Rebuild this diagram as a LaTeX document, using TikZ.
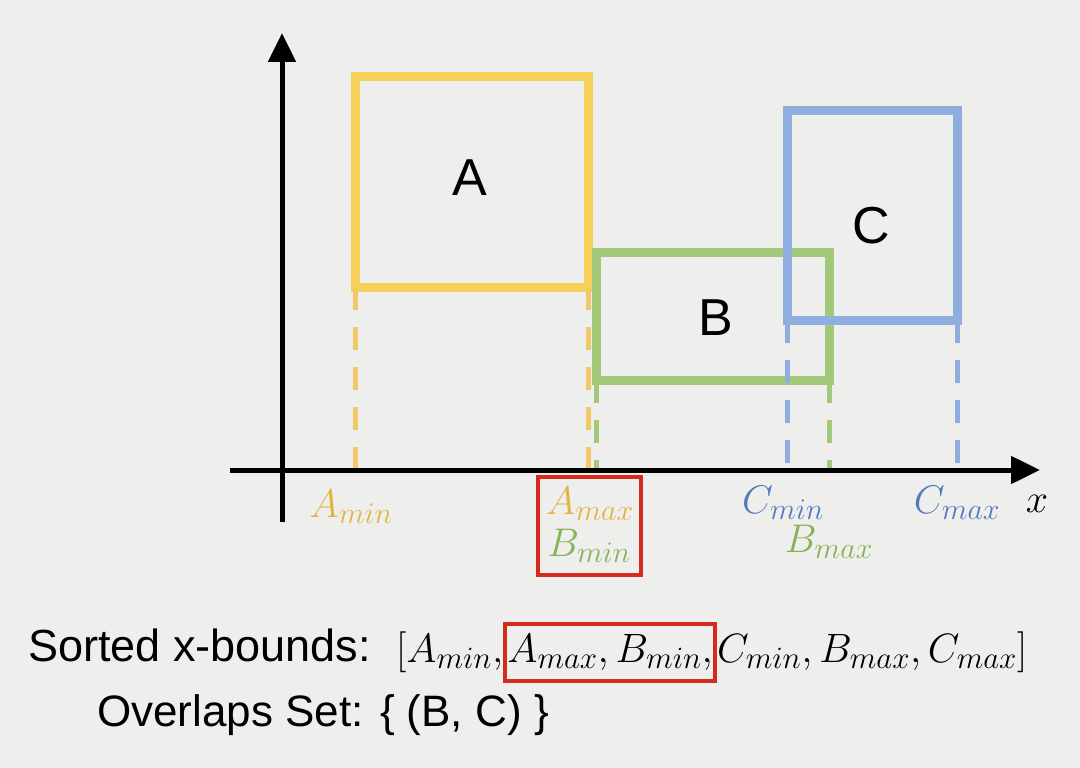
\documentclass[tikz,border=0pt]{standalone}
\usepackage{fix-cm}
\usepackage{fontspec}
\setmainfont{Liberation Sans}
\DeclareMathSizes{40}{40}{30}{24}
\DeclareMathSizes{41}{41}{31}{24}
\usetikzlibrary{arrows.meta}
\definecolor{bg}{HTML}{EEEEEC}
\definecolor{ayel}{HTML}{F6D159}
\definecolor{adash}{HTML}{F4C86A}
\definecolor{bgrn}{HTML}{A2C97A}
\definecolor{cblu}{HTML}{8EAEE0}
\definecolor{alab}{HTML}{E3B443}
\definecolor{blab}{HTML}{86B25A}
\definecolor{clab}{HTML}{527CBD}
\definecolor{redb}{HTML}{D52B1E}
\begin{document}
\begin{tikzpicture}[x=1pt,y=-1pt,
  box/.style={draw,line width=9pt,outer sep=0pt,inner sep=0pt},
  axisline/.style={line width=5pt,-{Triangle[length=29pt,width=27pt]}},
  guide/.style={line width=5pt,dash pattern=on 23pt off 17pt},
  big/.style={font=\fontsize{52}{60}\selectfont,inner sep=0pt},
  lab/.style={font=\fontsize{40}{48}\selectfont,inner sep=0pt,anchor=base},
  txt/.style={font=\fontsize{45}{52}\selectfont,inner sep=0pt,anchor=base west},
  lst/.style={font=\fontsize{41}{48}\selectfont,inner sep=0pt,anchor=base west}]
\useasboundingbox (0,0) rectangle (1080,768);
\fill[bg] (0,0) rectangle (1080,768);
% axes
\coordinate (o) at (282,470);
\coordinate (yb) at (282,522);
\coordinate (yt) at (282,33);
\coordinate (xl) at (230,470);
\coordinate (xr) at (1040,470);
% boxes
\node[box,draw=ayel,minimum width=233pt,minimum height=210pt] (A) at (471.5,182) {};
\node[box,draw=bgrn,minimum width=233pt,minimum height=128pt] (B) at (712.5,316) {};
\node[box,draw=cblu,minimum width=170pt,minimum height=209pt] (C) at (872,215.5) {};
\node[big] (tA) at (470,178) {A};
\node[big] (tB) at (716,318) {B};
\node[big] (tC) at (871,226) {C};
% guides
\draw[guide,adash] (A.south west) -- (A.south west |- o);
\draw[guide,adash] (A.south east) -- (A.south east |- o);
\draw[guide,bgrn] (B.south west) -- (B.south west |- o);
\draw[guide,bgrn] (B.south east) -- (B.south east |- o);
\draw[guide,cblu] (C.south west) -- (C.south west |- o);
\draw[guide,cblu] (C.south east) -- (C.south east |- o);
\draw[axisline] (yb) -- (yt);
\draw[axisline] (xl) -- (xr);
% labels
\node[lab,text=alab] (amin) at (351,517) {$A_{min}$};
\node[draw=redb,line width=4pt,minimum width=103pt,minimum height=98pt,inner sep=0pt] (rb) at (589.5,526) {};
\node[lab,text=alab] (amax) at (590,514) {$A_{max}$};
\node[lab,text=blab] (bmin) at (589,556) {$B_{min}$};
\node[lab,text=clab] (cmin) at (783,513) {$C_{min}$};
\node[lab,text=blab] (bmax) at (829,552) {$B_{max}$};
\node[lab,text=clab] (cmax) at (957,513) {$C_{max}$};
\node[lab] (xlab) at (1037,512) {$x$};
% bottom text
\node[txt] (sorted) at (28,661) {Sorted x-bounds:};
\node[lst] (l1) at (396,662) {$[A_{min},$};
\node[lst,draw=redb,line width=4pt,inner xsep=2pt,inner ysep=4pt,text height=34pt,text depth=15pt] (mid) at (l1.base east) {$A_{max}, B_{min},$};
\node[lst] (r1) at (mid.base east) {$C_{min}, B_{max}, C_{max}]$};
\node[txt,font=\fontsize{44}{52}\selectfont] (ovl) at (97,726) {Overlaps Set: \{ (B, C) \}};
\end{tikzpicture}
\end{document}
